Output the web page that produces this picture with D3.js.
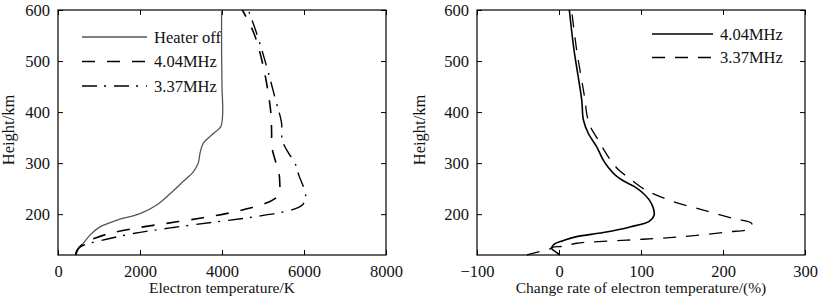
<!DOCTYPE html>
<html>
<head>
<meta charset="utf-8">
<script src="https://cdn.jsdelivr.net/npm/d3@7"></script>
<style>
  body { margin: 0; background: #fff; }
  text { font-family: "Liberation Serif", "Times New Roman", serif; fill: #111; }
</style>
</head>
<body>
<div id="chart"></div>
<script>
// Dados: [valor, altura km]
const heaterOff = [[430,120],[450,128],[578,139],[780,159],[1024,175],[1431,188],[2000,201],[2407,218],
  [2732,240],[3050,264],[3300,283],[3420,300],[3463,319],[3545,339],[3788,358],[3967,371],[4016,397],
  [4000,450],[3990,520],[3990,600]];
const te404 = [[430,120],[460,127],[520,135],[650,144],[900,153],[1250,162],[1850,172],[2650,182],
  [3460,192],[4100,201],[4585,210],[5050,221],[5300,231],[5400,242],[5410,260],[5390,280],[5300,305],
  [5220,330],[5210,360],[5200,390],[5160,420],[5008,489],[4780,554],[4496,600]];
const te337 = [[430,120],[456,126],[496,133],[618,139],[1024,148],[1837,162],[2813,174],[3870,185],
  [4800,195],[5683,208],[5960,218],[6040,232],[6000,250],[5880,275],[5780,300],[5620,320],[5470,345],
  [5450,380],[5320,420],[5090,489],[4846,554],[4642,600]];
const rate404 = [[1,120],[-4,126],[-9,133],[-6,141],[5,148],[21.5,156],[54,164],[86.6,175],[110,186],
  [116,198],[115,212],[110,228],[102,242],[92,254],[80,264],[69,276],[60,292],[54,306],[46,332],
  [35.8,358],[29.7,385],[27.7,424],[18.3,522],[12.6,600]];
const rate337 = [[-39,120],[-25,126],[-12,131],[-8,135],[5,137],[21.5,143],[82.5,149],[143.5,155],
  [204.5,165],[233,172],[235,182],[212.6,191.5],[176,208],[135,227],[105,248],[86,270],[72,288],
  [62,308],[54,328],[46,350],[38,372],[34,395],[31.7,424],[21.5,522],[15.4,600]];

const heightTicks = [200, 300, 400, 500, 600];
const tempTicks = [0, 2000, 4000, 6000, 8000];
const rateTicks = [-100, 0, 100, 200, 300];

const svg = d3.select('#chart').append('svg')
  .attr('width', 820).attr('height', 299);

const yScale = d3.scaleLinear().domain([120, 600]).range([255, 10]);

function drawPanel(x0, x1, xDomain, xTicks, xTitle, yTitleX, series, legend) {
  const x = d3.scaleLinear().domain(xDomain).range([x0, x1]);
  const g = svg.append('g');
  const tickLen = 5;

  // eixos (ticks para dentro, nos quatro lados)
  g.append('g').attr('transform', `translate(0,255)`)
    .call(d3.axisBottom(x).tickValues(xTicks).tickSize(-tickLen).tickPadding(10).tickFormat(d3.format('d')))
    .call(a => a.select('.domain').remove());
  g.append('g').attr('transform', `translate(0,10)`)
    .call(d3.axisTop(x).tickValues(xTicks).tickSize(-tickLen).tickFormat(''))
    .call(a => a.select('.domain').remove());
  g.append('g').attr('transform', `translate(${x0},0)`)
    .call(d3.axisLeft(yScale).tickValues(heightTicks).tickSize(-tickLen).tickPadding(8))
    .call(a => a.select('.domain').remove());
  g.append('g').attr('transform', `translate(${x1},0)`)
    .call(d3.axisRight(yScale).tickValues(heightTicks).tickSize(-tickLen).tickFormat(''))
    .call(a => a.select('.domain').remove());
  g.selectAll('.tick text').style('font-size', '16.5px').style('font-family', '"Liberation Serif", serif');
  g.selectAll('.tick line').attr('stroke', '#000');

  g.append('rect')
    .attr('x', x0).attr('y', 10).attr('width', x1 - x0).attr('height', 245)
    .attr('fill', 'none').attr('stroke', '#000').attr('stroke-width', 1.2);

  const line = d3.line()
    .x(d => x(d[0])).y(d => yScale(d[1]))
    .curve(d3.curveCatmullRom.alpha(0.5));

  series.forEach(s => {
    g.append('path')
      .datum(s.data)
      .attr('d', line)
      .attr('fill', 'none')
      .attr('stroke', s.color)
      .attr('stroke-width', s.width)
      .attr('stroke-dasharray', s.dash || null);
  });

  // títulos
  g.append('text')
    .attr('x', (x0 + x1) / 2).attr('y', 293)
    .attr('text-anchor', 'middle').style('font-size', '15.5px')
    .text(xTitle);
  g.append('text')
    .attr('transform', `translate(${yTitleX},130) rotate(-90)`)
    .attr('text-anchor', 'middle').attr('dy', '0.35em').style('font-size', '16.5px')
    .text('Height/km');

  // legenda
  const lg = g.append('g');
  series.forEach((s, i) => {
    const yy = legend.y + i * legend.step;
    lg.append('line')
      .attr('x1', legend.x).attr('x2', legend.x + legend.len)
      .attr('y1', yy).attr('y2', yy)
      .attr('stroke', s.color).attr('stroke-width', s.width)
      .attr('stroke-dasharray', s.dash || null);
    lg.append('text')
      .attr('x', legend.x + legend.len + 7).attr('y', yy + 5.5)
      .style('font-size', '16.5px')
      .text(s.name);
  });
}

drawPanel(58, 386, [0, 8000], tempTicks, 'Electron temperature/K', 8, [
  { name: 'Heater off', data: heaterOff, color: '#555', width: 1.3 },
  { name: '4.04MHz', data: te404, color: '#000', width: 1.6, dash: '13,12' },
  { name: '3.37MHz', data: te337, color: '#000', width: 1.4, dash: '15,7,2,8' }
], { x: 82, y: 37, step: 24.5, len: 65 });

drawPanel(477, 805, [-100, 300], rateTicks, 'Change rate of electron temperature/(%)', 419, [
  { name: '4.04MHz', data: rate404, color: '#000', width: 1.6 },
  { name: '3.37MHz', data: rate337, color: '#000', width: 1.3, dash: '13,10' }
], { x: 652, y: 34, step: 23.5, len: 61 });
</script>
</body>
</html>
